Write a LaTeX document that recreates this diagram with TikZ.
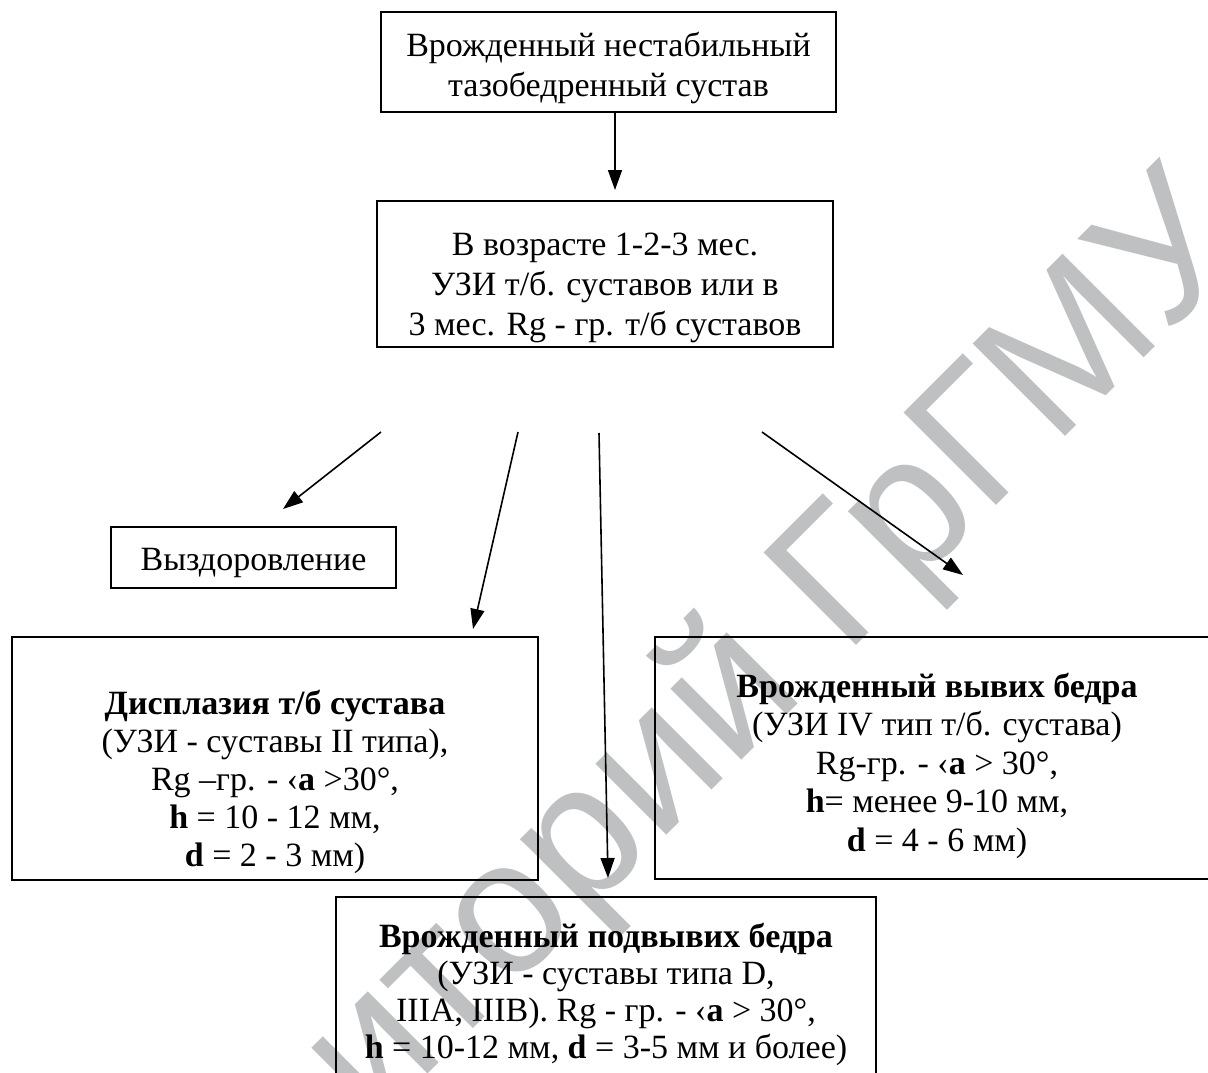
\documentclass[tikz,border=0pt]{standalone}
\usepackage{fontspec}
\setmainfont{Liberation Serif}
\newfontfamily\wmfont{Liberation Sans}
\usetikzlibrary{arrows.meta}
\definecolor{wmgray}{RGB}{190,192,194}
\newcommand{\boxtext}[5]{\begin{minipage}[c][#2pt][t]{#1pt}\fontsize{34pt}{#5pt}\selectfont\centering\vspace*{#3pt}\rule{0pt}{24pt}#4\end{minipage}}
\tikzset{
  box/.style={draw, line width=1.6pt, inner sep=0pt, outer sep=0pt},
  arr/.style={line width=1.6pt, -{Triangle[length=20pt,width=14pt]}},
  wm/.style={text=wmgray, inner sep=0pt, font=\wmfont\fontsize{190pt}{190pt}\selectfont}
}
\begin{document}
\begin{tikzpicture}[x=1pt,y=-1pt]
\useasboundingbox (0,0) rectangle (1208,1073);
\clip (0,0) rectangle (1208,1073);
\fill[white] (0,0) rectangle (1208,1073);
% watermark
\node[wm, rotate=45, anchor=base west] (wmark) at (7,1495) {Репозиторий ГрГМУ};
% boxes
\node[box] (top) at (608.5,62) {\boxtext{455}{100}{20}{Врожденный нестабильный\\ тазобедренный сустав}{40}};
\node[box] (age) at (605,274) {\boxtext{456}{146}{30}{В возрасте 1-2-3 мес.\\ УЗИ т/б. суставов или в\\ 3 мес. Rg - гр. т/б суставов}{40}};
\node[box] (rec) at (253.5,557.5) {\boxtext{285}{61}{19}{Выздоровление}{39}};
\node[box] (dys) at (275,758.5) {\boxtext{526}{243}{53}{\textbf{Дисплазия т/б сустава}\\ (УЗИ - суставы II типа),\\ Rg –гр. - ‹\textbf{a} >30°,\\ \textbf{h} = 10 - 12 мм,\\ \textbf{d} = 2 - 3 мм)}{38}};
\node[box] (lux) at (937,758) {\boxtext{564}{242}{36}{\textbf{Врожденный вывих бедра}\\ (УЗИ IV тип т/б. сустава)\\ Rg-гр. - ‹\textbf{a} > 30°,\\ \textbf{h}= менее 9-10 мм,\\ \textbf{d} = 4 - 6 мм)}{38.5}};
\node[box] (sub) at (606,1007) {\boxtext{540}{220}{26}{\textbf{Врожденный подвывих бедра}\\ (УЗИ - суставы типа D,\\ IIIA, IIIB). Rg - гр. - ‹\textbf{a} > 30°,\\ \textbf{h} = 10-12 мм, \textbf{d} = 3-5 мм и более)}{37}};
% free ends of connectors
\coordinate (t1) at (615,190);
\coordinate (s1) at (381,432);
\coordinate (e1) at (283,509);
\coordinate (s2) at (518,432);
\coordinate (e2) at (473,629);
\coordinate (s3) at (599,433);
\coordinate (e3) at (608,878);
\coordinate (s4) at (762,432);
\coordinate (e4) at (963,575);
% connectors
\draw[arr] (top.south -| t1) -- (t1);
\draw[arr] (s1) -- (e1);
\draw[arr] (s2) -- (e2);
\draw[arr] (s3) -- (e3);
\draw[arr] (s4) -- (e4);
\end{tikzpicture}
\end{document}
